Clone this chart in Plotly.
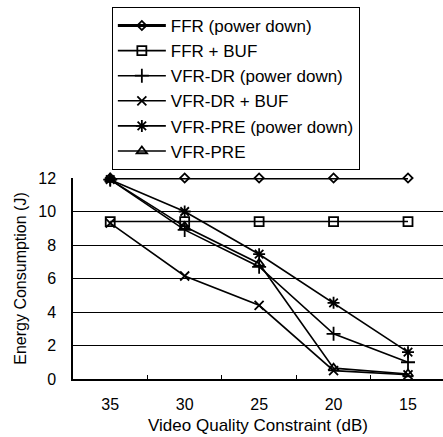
import plotly.graph_objects as go

# Video quality constraint (dB), left to right
quality = ["35", "30", "25", "20", "15"]

# Energy consumption (J) per scheme
ffr_power_down = [12.0, 12.0, 12.0, 12.0, 12.0]
ffr_buf = [9.4, 9.4, 9.4, 9.4, 9.4]
vfr_dr_power_down = [11.9, 8.9, 6.7, 2.7, 1.0]
vfr_dr_buf = [9.3, 6.15, 4.4, 0.5, 0.25]
vfr_pre_power_down = [11.9, 10.0, 7.45, 4.55, 1.6]
vfr_pre = [11.9, 9.1, 6.9, 0.65, 0.3]

series = [
    ("FFR (power down)", ffr_power_down, "diamond-open", 7, 3),
    ("FFR + BUF", ffr_buf, "square-open", 9, 1.6),
    ("VFR-DR (power down)", vfr_dr_power_down, "cross-thin", 10, 1.6),
    ("VFR-DR + BUF", vfr_dr_buf, "x-thin", 9, 1.6),
    ("VFR-PRE (power down)", vfr_pre_power_down, "asterisk", 10, 1.6),
    ("VFR-PRE", vfr_pre, "triangle-up-open", 9, 1.6),
]

fig = go.Figure()
for i, (name, vals, sym, size, lw) in enumerate(series):
    fig.add_trace(go.Scatter(
        x=quality, y=vals, name=name, mode="lines+markers",
        legendgroup=f"g{i}",
        line=dict(color="black", width=lw),
        marker=dict(symbol=sym, size=size, color="black",
                    line=dict(color="black", width=1.8)),
        cliponaxis=False,
    ))

font = "Liberation Sans, Arial, sans-serif"
fig.update_layout(
    width=443, height=437,
    margin=dict(l=73, r=0, t=178, b=58),
    paper_bgcolor="white", plot_bgcolor="white",
    font=dict(family=font, size=16, color="black"),
    showlegend=True,
    legend=dict(
        x=0.105, y=1.851, xanchor="left", yanchor="top",
        bordercolor="black", borderwidth=1, bgcolor="white",
        font=dict(size=17), tracegroupgap=0, itemwidth=48,
        traceorder="grouped",
    ),
    xaxis=dict(
        type="category", range=[-0.5, 4.47], automargin=False,
        showgrid=False, showline=True, linecolor="black", linewidth=2,
        ticks="inside", tickson="boundaries", ticklen=4, tickcolor="black",
        tickfont=dict(size=16), ticklabelstandoff=10,
        title=dict(text="Video Quality Constraint (dB)", font=dict(size=17), standoff=7),
    ),
    yaxis=dict(
        range=[0, 12], dtick=2, showgrid=True, gridcolor="black", gridwidth=1,
        showline=True, linecolor="black", linewidth=1.5, zeroline=False,
        ticks="", tickfont=dict(size=16), ticklabelstandoff=12, automargin=False,
        title=dict(text="Energy Consumption (J)", font=dict(size=16), standoff=8),
    ),
)

fig.write_html("out.html")
